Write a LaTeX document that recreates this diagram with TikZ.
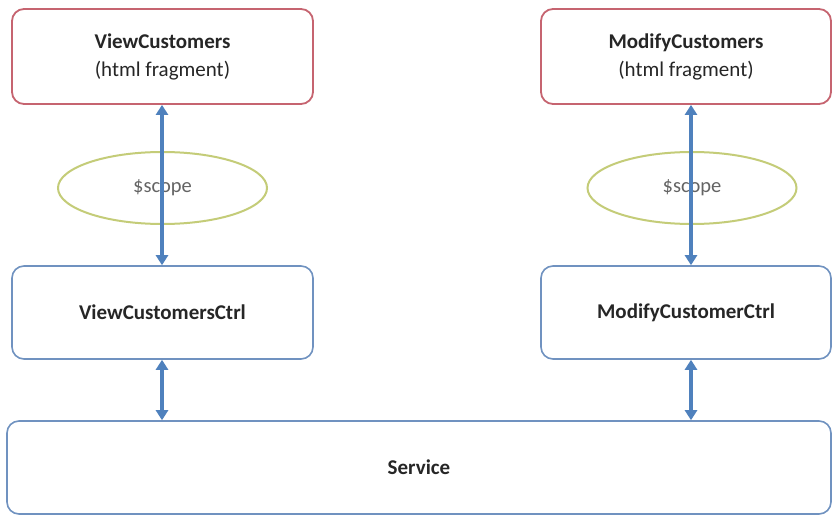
\documentclass[tikz,border=0pt]{standalone}
\usepackage{fontspec}
\setmainfont{Carlito}
\usetikzlibrary{arrows.meta,shapes.geometric}
\definecolor{viewred}{RGB}{198,100,112}
\definecolor{ctrlblue}{RGB}{112,146,192}
\definecolor{linkblue}{RGB}{79,129,189}
\definecolor{scopegreen}{RGB}{196,204,120}
\definecolor{textdark}{RGB}{38,38,38}
\definecolor{textgray}{RGB}{100,100,100}
\tikzset{
  viewbox/.style={draw=viewred, line width=1.8pt, rounded corners=12pt, fill=white,
    align=center, text=textdark, font=\fontsize{21}{28}\selectfont, inner sep=0pt},
  ctrlbox/.style={draw=ctrlblue, line width=1.6pt, rounded corners=12pt, fill=white,
    align=center, text=textdark, font=\fontsize{21}{28}\selectfont\bfseries, inner sep=0pt},
  scopebubble/.style={ellipse, draw=scopegreen, line width=2pt, fill=white,
    minimum width=209pt, minimum height=72pt, inner sep=0pt,
    text=textgray, font=\fontsize{20.5}{24}\selectfont},
  biarrow/.style={draw=linkblue, line width=3.2pt,
    {Triangle[width=12pt,length=10pt]}-{Triangle[width=12pt,length=10pt]}}
}
\begin{document}
\begin{tikzpicture}[x=1pt,y=-1pt]
  \useasboundingbox[fill=white] (0,0) rectangle (833,516);

  % html fragments
  \node[viewbox, minimum width=301pt, minimum height=95pt] (vc) at (162.5,56.5)
    {\textbf{ViewCustomers}\\(html fragment)};
  \node[viewbox, minimum width=290pt, minimum height=95pt] (mc) at (686,56.5)
    {\textbf{ModifyCustomers}\\(html fragment)};

  % controllers
  \node[ctrlbox, minimum width=301pt, minimum height=93pt] (vcc) at (162.5,312.5)
    {ViewCustomersCtrl};
  \node[ctrlbox, minimum width=290pt, minimum height=93pt] (mcc) at (686,312.5)
    {ModifyCustomerCtrl};

  % shared service
  \node[ctrlbox, minimum width=824pt, minimum height=93pt] (svc) at (419,467.5)
    {Service};

  % scope bubbles
  \node[scopebubble] (ls) at (162.5,188) {\$scope};
  \node[scopebubble] (rs) at (692,188) {\$scope};

  % connector columns
  \coordinate (lx) at (162,0);
  \coordinate (rx) at (691,0);

  \draw[biarrow] (vc.south -| lx) -- (vcc.north -| lx);
  \draw[biarrow] (mc.south -| rx) -- (mcc.north -| rx);
  \draw[biarrow] (vcc.south -| lx) -- (svc.north -| lx);
  \draw[biarrow] (mcc.south -| rx) -- (svc.north -| rx);
\end{tikzpicture}
\end{document}
